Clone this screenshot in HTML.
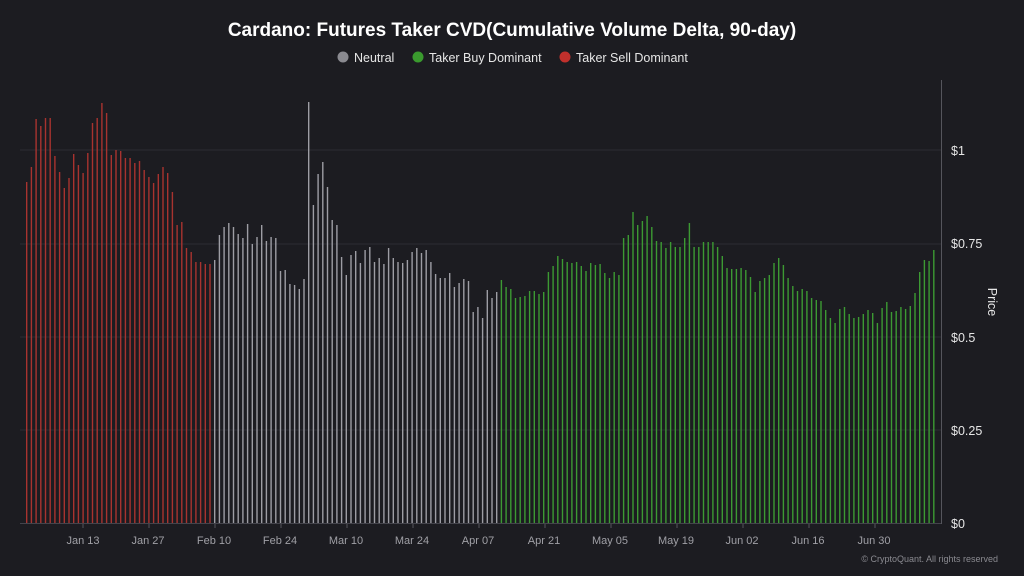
<!DOCTYPE html>
<html><head><meta charset="utf-8"><style>
html,body{margin:0;padding:0;background:#1c1c21;width:1024px;height:576px;overflow:hidden}
svg{display:block;font-family:"Liberation Sans",sans-serif}
</style></head><body>
<svg id="s" width="1024" height="576" viewBox="0 0 1024 576">
<rect width="1024" height="576" fill="#1c1c21"/>
<text x="512" y="36" text-anchor="middle" fill="#ffffff" font-size="19" font-weight="bold">Cardano: Futures Taker CVD(Cumulative Volume Delta, 90-day)</text>
<circle cx="343" cy="57" r="5.5" fill="#8a8a90"/><text x="354" y="62" fill="#e6e6e6" font-size="12.5">Neutral</text>
<circle cx="418" cy="57" r="5.5" fill="#3a9a2e"/><text x="429" y="62" fill="#e6e6e6" font-size="12.5">Taker Buy Dominant</text>
<circle cx="565" cy="57" r="5.5" fill="#c0302c"/><text x="576" y="62" fill="#e6e6e6" font-size="12.5">Taker Sell Dominant</text>
<g stroke="#2c2c33" stroke-width="1">
<line x1="20" y1="150" x2="941" y2="150"/><line x1="20" y1="244" x2="941" y2="244"/>
<line x1="20" y1="337" x2="941" y2="337"/><line x1="20" y1="430" x2="941" y2="430"/>
</g>
<g id="bars"></g>
<line x1="20" y1="523.5" x2="941" y2="523.5" stroke="#44444c"/>
<line x1="941.5" y1="80" x2="941.5" y2="524" stroke="#55555c"/>
<g fill="#e6e6e6" font-size="12.5">
<text x="951" y="155">$1</text><text x="951" y="248">$0.75</text><text x="951" y="342">$0.5</text><text x="951" y="435">$0.25</text><text x="951" y="528">$0</text>
</g>
<text transform="translate(988,302) rotate(90)" text-anchor="middle" fill="#e6e6e6" font-size="12.5">Price</text>
<g fill="#a0a0a6" font-size="11" text-anchor="middle" id="xl">
<text x="83" y="544">Jan 13</text><text x="148" y="544">Jan 27</text><text x="214" y="544">Feb 10</text><text x="280" y="544">Feb 24</text><text x="346" y="544">Mar 10</text><text x="412" y="544">Mar 24</text><text x="478" y="544">Apr 07</text><text x="544" y="544">Apr 21</text><text x="610" y="544">May 05</text><text x="676" y="544">May 19</text><text x="742" y="544">Jun 02</text><text x="808" y="544">Jun 16</text><text x="874" y="544">Jun 30</text>
</g>
<text x="998" y="562" text-anchor="end" fill="#8a8a90" font-size="9">© CryptoQuant. All rights reserved</text>
</svg>
<script>
var red=[182,167,119,126,118,118,156,172,188,178,154,165,173,153,123,118,103,113,155,150,151,158,158,163,161,170,177,183,174,167,173,192,225,222,248,252,262,262,264,264];
var grey=[260,235,227,223,227,234,238,224,244,237,225,241,237,238,271,270,284,285,289,279,102,205,174,162,187,220,225,257,275,255,251,263,250,247,262,258,264,248,258,262,263,260,252,248,253,250,262,274,278,278,273,287,283,279,281,312,307,318,290,298,292];
var green=[280,287,289,298,297,296,291,291,294,292,272,266,256,259,262,263,262,266,271,263,265,264,273,278,272,275,238,235,212,225,221,216,227,241,242,248,242,247,247,238,223,247,247,242,242,242,247,256,268,269,269,268,270,277,292,281,278,275,263,258,265,278,286,291,289,291,298,300,301,310,318,323,309,307,314,318,317,314,310,313,323,308,302,312,311,307,309,306,293,272,260,261,250];
var g=document.getElementById('bars'),h='',i=0;
function add(a,c){a.forEach(function(y){var x=(26.7+i*4.7).toFixed(1);h+='<line x1="'+x+'" x2="'+x+'" y1="'+y+'" y2="523" stroke="'+c+'" stroke-width="1.4"/>';i++;});}
add(red,'#a8332f');add(grey,'#9d9da4');add(green,'#3c9a33');
g.innerHTML=h;
var t='';for(var k=0;k<13;k++){var x=83+k*66;t+='<line x1="'+x+'" x2="'+x+'" y1="524" y2="528" stroke="#55555c"/>';}
document.getElementById('xl').insertAdjacentHTML('beforebegin','<g>'+t+'</g>');
</script>
</body></html>
